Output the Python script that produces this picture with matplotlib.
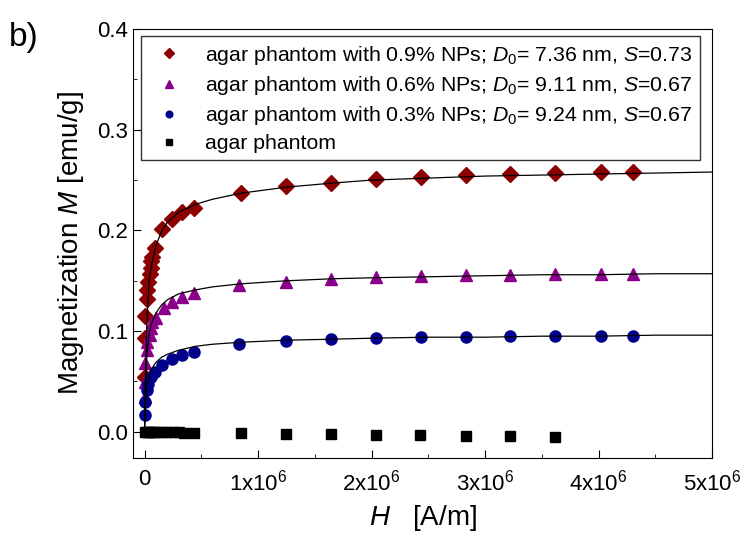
import numpy as np
import matplotlib
matplotlib.use("Agg")
import matplotlib.pyplot as plt
from matplotlib.ticker import MultipleLocator

plt.rcParams['font.family'] = ['Liberation Sans', 'DejaVu Sans']
plt.rcParams['mathtext.fontset'] = 'custom'
plt.rcParams['mathtext.rm'] = 'Liberation Sans'
plt.rcParams['mathtext.it'] = 'Liberation Sans:italic'

# measured points, H in units of 1e6 A/m, M in emu/g
h_red = [0.0, 0.0, 0.0, 0.018, 0.026, 0.035, 0.044, 0.053, 0.061, 0.07, 0.088,
         0.158, 0.246, 0.333, 0.439, 0.85, 1.25, 1.64, 2.04, 2.44, 2.83, 3.22,
         3.62, 4.02, 4.30]
m_red = [0.054, 0.093, 0.115, 0.132, 0.141, 0.149, 0.157, 0.163, 0.170, 0.174,
         0.183, 0.201, 0.211, 0.218, 0.222, 0.237, 0.244, 0.247, 0.251, 0.253,
         0.255, 0.256, 0.257, 0.258, 0.258]

h_pur = [0.0, 0.0, 0.0, 0.018, 0.026, 0.044, 0.061, 0.07, 0.105, 0.175, 0.246,
         0.333, 0.439, 0.83, 1.25, 1.64, 2.04, 2.44, 2.83, 3.22, 3.62, 4.02, 4.30]
m_pur = [0.035, 0.049, 0.068, 0.081, 0.089, 0.096, 0.103, 0.109, 0.113, 0.123,
         0.129, 0.134, 0.138, 0.146, 0.149, 0.152, 0.154, 0.155, 0.156, 0.156,
         0.157, 0.157, 0.157]

h_blu = [0.0, 0.0, 0.018, 0.035, 0.061, 0.088, 0.158, 0.246, 0.333, 0.439,
         0.83, 1.25, 1.64, 2.04, 2.44, 2.83, 3.22, 3.62, 4.02, 4.30]
m_blu = [0.017, 0.030, 0.042, 0.048, 0.054, 0.059, 0.066, 0.072, 0.076, 0.079,
         0.087, 0.090, 0.092, 0.093, 0.094, 0.094, 0.095, 0.095, 0.095, 0.095]

h_blk = [0.0, 0.02, 0.04, 0.06, 0.08, 0.1, 0.15, 0.2, 0.25, 0.3, 0.35, 0.44,
         0.85, 1.25, 1.64, 2.04, 2.43, 2.83, 3.22, 3.62]
m_blk = [0.0, 0.0, 0.0, 0.0, 0.0, 0.0, 0.0, -0.0005, -0.0005, -0.0005, -0.001,
         -0.001, -0.0015, -0.002, -0.0025, -0.003, -0.0035, -0.004, -0.0045, -0.005]

# fitted curves
h_fit = [0.0, 0.005, 0.01, 0.02, 0.04, 0.06, 0.1, 0.15, 0.2, 0.3, 0.45, 0.6,
         0.85, 1.25, 1.65, 2.0, 2.5, 3.0, 3.5, 4.0, 4.5, 5.0]
fit_red = [0.0, 0.03, 0.06, 0.105, 0.15, 0.165, 0.185, 0.199, 0.208, 0.218,
           0.226, 0.231, 0.237, 0.243, 0.247, 0.250, 0.252, 0.254, 0.255,
           0.256, 0.257, 0.258]
fit_pur = [0.0, 0.03, 0.05, 0.075, 0.097, 0.107, 0.118, 0.126, 0.131, 0.137,
           0.141, 0.144, 0.147, 0.150, 0.152, 0.153, 0.154, 0.155, 0.156,
           0.156, 0.157, 0.157]
fit_blu = [0.0, 0.02, 0.032, 0.045, 0.055, 0.062, 0.069, 0.074, 0.077, 0.081,
           0.085, 0.087, 0.089, 0.091, 0.092, 0.093, 0.094, 0.094, 0.095,
           0.095, 0.096, 0.096]

labels = ['agar phantom with 0.9% NPs; $D_0$= 7.36 nm, $S$=0.73',
          'agar phantom with 0.6% NPs; $D_0$= 9.11 nm, $S$=0.67',
          'agar phantom with 0.3% NPs; $D_0$= 9.24 nm, $S$=0.67',
          'agar phantom']

fig = plt.figure(figsize=(7.44, 5.43), dpi=100)
ax = fig.add_axes([0.179, 0.1565, 0.778, 0.790])

s = 1e6
ax.plot(np.array(h_fit) * s, fit_red, color='black', lw=0.9, zorder=3)
ax.plot(np.array(h_fit) * s, fit_pur, color='black', lw=0.9, zorder=3)
ax.plot(np.array(h_fit) * s, fit_blu, color='black', lw=0.9, zorder=3)

ax.plot(np.array(h_red) * s, m_red, 'D', color='#8b0000', ms=8, ls='none', label=labels[0], zorder=2)
ax.plot(np.array(h_pur) * s, m_pur, '^', color='#8b008b', ms=9, ls='none', label=labels[1], zorder=2)
ax.plot(np.array(h_blu) * s, m_blu, 'o', color='#00008b', ms=8, ls='none', label=labels[2], zorder=2)
ax.plot(np.array(h_blk) * s, m_blk, 's', color='black', ms=7, ls='none', label=labels[3], zorder=2)

ax.set_xlim(-0.1e6, 5.0e6)
ax.set_ylim(-0.026, 0.4)

ax.set_xticks([0, 1e6, 2e6, 3e6, 4e6, 5e6])
ax.set_xticklabels(['0', '1x10$^6$', '2x10$^6$', '3x10$^6$', '4x10$^6$', '5x10$^6$'])
ax.xaxis.set_minor_locator(MultipleLocator(0.5e6))
ax.set_yticks([0.0, 0.1, 0.2, 0.3, 0.4])
ax.set_yticklabels(['0.0', '0.1', '0.2', '0.3', '0.4'])
ax.yaxis.set_minor_locator(MultipleLocator(0.05))
ax.tick_params(which='both', direction='in', top=False, right=False, labelsize=16)
ax.tick_params(which='major', length=6)
ax.tick_params(which='minor', length=3)
ax.tick_params(axis='x', pad=8)

ax.set_xlabel('$H$   [A/m]', fontsize=20, labelpad=6)
ax.set_ylabel('Magnetization $M$ [emu/g]', fontsize=20, labelpad=8)

leg = ax.legend(loc='upper left', fontsize=15.3, frameon=True, fancybox=False,
                edgecolor='black', markerscale=0.6, borderpad=0.35,
                labelspacing=0.33, handletextpad=0.7, borderaxespad=0.35)
leg.get_frame().set_linewidth(1.0)

fig.text(0.012, 0.96, 'b)', fontsize=24, va='top')

fig.savefig('out.png', dpi=100)
